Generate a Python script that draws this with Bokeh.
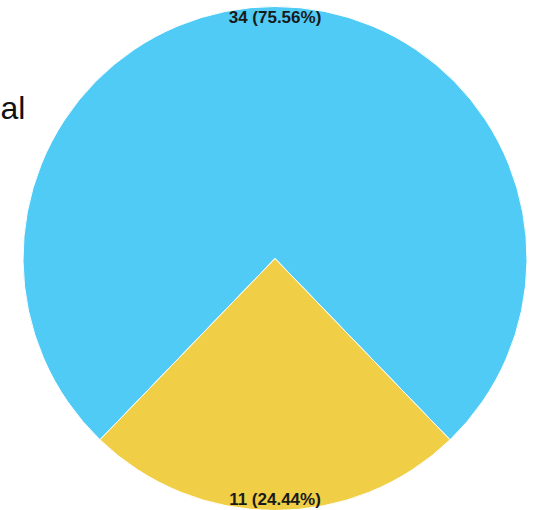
import math
from bokeh.plotting import figure
from bokeh.models import ColumnDataSource, Range1d
from bokeh.embed import file_html
from bokeh.resources import INLINE
from bokeh.core.properties import value

# ---- data ----
categories = ["Series A", "Series B"]
counts = [34, 11]
colors = ["#4fcbf5", "#f0cf46"]
title_text = "al"

W, H = 533, 510
p = figure(width=W, height=H, output_backend="svg", toolbar_location=None,
           x_range=Range1d(0, W), y_range=Range1d(0, H), min_border=0)
p.axis.visible = False
p.grid.visible = False
p.outline_line_color = None

cx, cy, r = 274.5, 252.0, 252.0

total = sum(counts)
fracs = [c / total for c in counts]
# second slice centred at the bottom
start = -math.pi / 2 + fracs[1] * math.pi
starts, ends, mids = [], [], []
a = start
for f in fracs:
    starts.append(a)
    ends.append(a + f * 2 * math.pi)
    mids.append(a + f * math.pi)
    a += f * 2 * math.pi

labels = [f"{c} ({f*100:.2f}%)" for c, f in zip(counts, fracs)]
lr = 241.0
src = ColumnDataSource(dict(
    start=starts, end=ends, color=colors, label=labels,
    lx=[cx + lr * math.cos(m) for m in mids],
    ly=[cy + lr * math.sin(m) for m in mids],
))

p.wedge(x=cx, y=cy, radius=r, start_angle="start", end_angle="end",
        fill_color="color", line_color="white", line_width=1, source=src)

p.text(x="lx", y="ly", text="label", source=src, text_align="center",
       text_baseline="middle", text_font=value("Liberation Sans"),
       text_font_style="bold", text_font_size="17px", text_color="#1a1a1a")

p.text(x=[0], y=[403], text=[title_text], text_align="left",
       text_baseline="alphabetic", text_font=value("Liberation Sans"),
       text_font_size="32px", text_color="#111111")

open("out.html", "w").write(file_html(p, INLINE))
